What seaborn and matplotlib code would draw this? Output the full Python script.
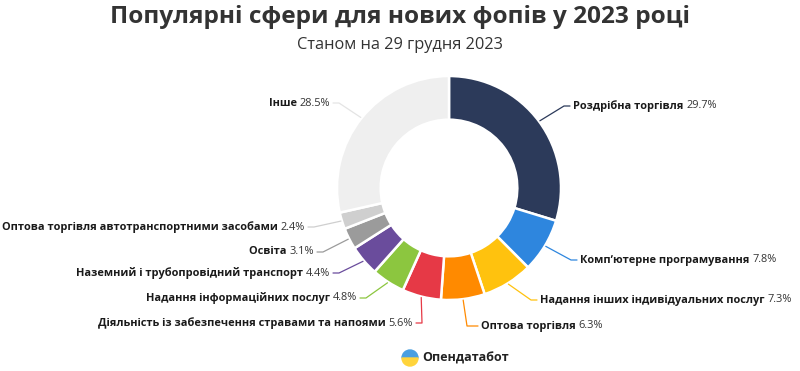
import matplotlib
matplotlib.use("Agg")
import matplotlib.pyplot as plt
import seaborn as sns
import numpy as np
from matplotlib.patches import Wedge

# ---------------- data ----------------
categories = [
    "Роздрібна торгівля",
    "Комп\u02bcютерне програмування",
    "Надання інших індивідуальних послуг",
    "Оптова торгівля",
    "Діяльність із забезпечення стравами та напоями",
    "Надання інформаційних послуг",
    "Наземний і трубопровідний транспорт",
    "Освіта",
    "Оптова торгівля автотранспортними засобами",
    "Інше",
]
shares = [29.7, 7.8, 7.3, 6.3, 5.6, 4.8, 4.4, 3.1, 2.4, 28.5]
pct_labels = ["29.7%", "7.8%", "7.3%", "6.3%", "5.6%", "4.8%", "4.4%", "3.1%", "2.4%", "28.5%"]

title = "Популярні сфери для нових фопів у 2023 році"
subtitle = "Станом на 29 грудня 2023"
brand = "Опендатабот"

# ---------------- style ----------------
colors = ["#2c3a5a", "#2e86de", "#ffc20e", "#ff8a00", "#e63946",
          "#8cc63f", "#6a4c9c", "#9b9b9b", "#cfcfcf", "#efefef"]
# label layout in pixel coords (x, y, side, elbow offset)
label_pos = [(573, 106, "L", 9), (580, 260, "L", 9), (540, 300, "L", 9), (481, 326, "L", 14),
             (413, 323, "R", 9), (357, 298, "R", 9), (330, 273, "R", 9), (314, 252, "R", 9),
             (305, 227, "R", 9), (330, 103, "R", 9)]

sns.set_theme(style="white")
plt.rcParams["font.family"] = ["Open Sans", "DejaVu Sans"]

W, H = 800, 371
fig = plt.figure(figsize=(W / 100, H / 100), dpi=100)
ax = fig.add_axes([0, 0, 1, 1])

def py(y):
    return H - y

cx, cy, R = 449, 188, 112
width = 0.39
wedges, _ = ax.pie(shares, colors=colors, startangle=90, counterclock=False,
                   radius=R, center=(cx, py(cy)),
                   wedgeprops=dict(width=R * width, edgecolor="white", linewidth=1.8))
ax.set_xlim(0, W)
ax.set_ylim(0, H)
ax.set_aspect("equal")
ax.axis("off")

fig.text(0.5, py(17) / H, title, ha="center", va="center", fontsize=17.6,
         fontweight="bold", color="#333333")
fig.text(0.5, py(45) / H, subtitle, ha="center", va="center", fontsize=11.8,
         color="#333333")

fig.canvas.draw()
renderer = fig.canvas.get_renderer()

fs = 7.9
for w, name, pct, (lx, ly, side, eo), col in zip(wedges, categories, pct_labels, label_pos, colors):
    ang = np.deg2rad((w.theta1 + w.theta2) / 2)
    ax_x = cx + (R + 1) * np.cos(ang)
    ax_y = py(cy) + (R + 1) * np.sin(ang)
    lcol = col if col != "#efefef" else "#e4e4e4"
    if side == "L":
        ex, hx = lx - eo, lx - 3
    else:
        ex, hx = lx + eo, lx + 3
    ax.plot([ax_x, ex, hx], [ax_y, py(ly), py(ly)], color=lcol, lw=0.9,
            solid_capstyle="round")
    if side == "L":
        t1 = ax.text(lx, py(ly), name + " ", ha="left", va="center", fontsize=fs,
                     fontweight="bold", color="#1a1a1a")
        bb = t1.get_window_extent(renderer)
        ax.text(bb.x1, py(ly), pct, ha="left", va="center", fontsize=fs,
                color="#333333")
    else:
        t2 = ax.text(lx, py(ly), pct, ha="right", va="center", fontsize=fs,
                     color="#333333")
        bb = t2.get_window_extent(renderer)
        ax.text(bb.x0, py(ly), name + " ", ha="right", va="center", fontsize=fs,
                fontweight="bold", color="#1a1a1a")

# brand logo
ax.add_patch(Wedge((410, py(358)), 8, 0, 180, color="#4a9fe0"))
ax.add_patch(Wedge((410, py(358)), 8, 180, 360, color="#ffd43b"))
ax.text(422, py(358), brand, ha="left", va="center", fontsize=9,
        fontweight="bold", color="#222222")

fig.savefig("out.png", dpi=100, facecolor="white")
